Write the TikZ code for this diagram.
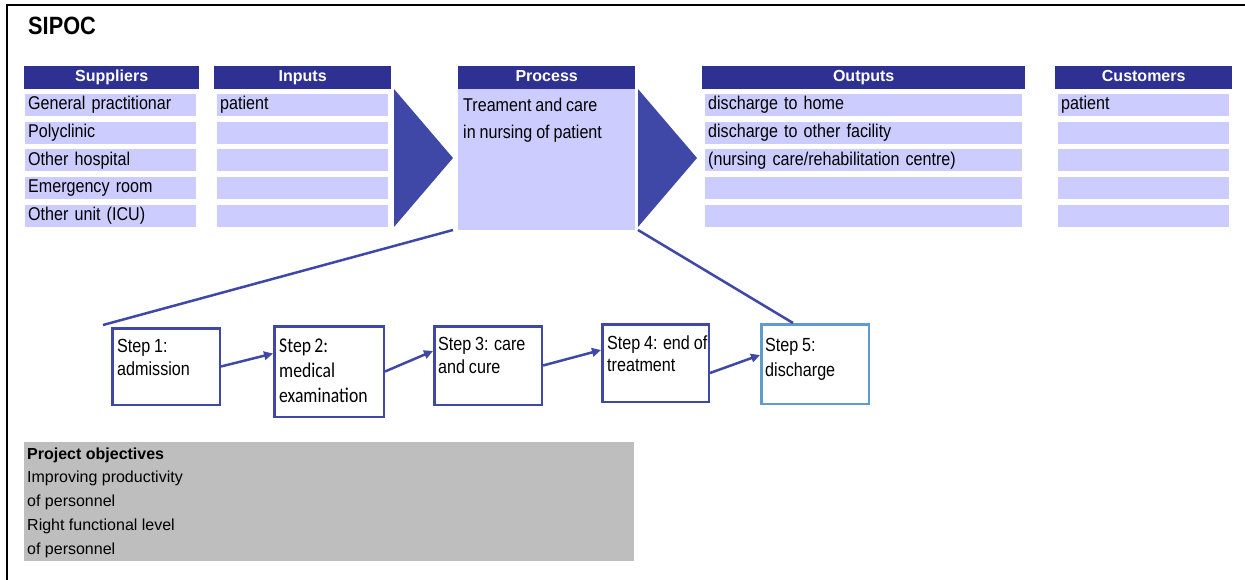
\documentclass[tikz,border=0pt]{standalone}
\usepackage{fontspec}
\setmainfont{Liberation Sans}
\newfontfamily\narrowsans[FakeStretch=0.87,WordSpace=0.87]{Liberation Sans}
\newfontfamily\stepsans[FakeStretch=0.85,WordSpace=0.85]{Liberation Sans}
\newfontfamily\calfont[FakeStretch=0.84,WordSpace=0.84]{Carlito}
\usetikzlibrary{arrows.meta}
\definecolor{hdr}{HTML}{2E3192}
\definecolor{rowc}{HTML}{CCCCFF}
\definecolor{chev}{HTML}{3F48A6}
\definecolor{stepb}{HTML}{3F48A6}
\definecolor{stepc}{HTML}{5E9BD3}
\definecolor{objc}{HTML}{BEBEBE}
\begin{document}
\begin{tikzpicture}[x=1pt,y=-1pt,
  hdrbox/.style={fill=hdr,text=white,font=\fontsize{16}{19}\selectfont\bfseries,anchor=north west,inner sep=0pt,minimum height=23pt,text height=11.7pt,text depth=3.4pt},
  rowbox/.style={fill=rowc,anchor=north west,inner xsep=3pt,inner ysep=0pt,minimum height=22pt,align=left,font=\narrowsans\fontsize{18.5}{21}\selectfont,text height=13.5pt,text depth=3.9pt},
  stepbox/.style={draw=stepb,line width=2.5pt,anchor=center,inner sep=0pt},
  steptext/.style={anchor=north west,inner sep=0pt,align=left},
  link/.style={draw=stepb,line width=2.5pt},
  flow/.style={draw=stepb,line width=2.5pt,-{Triangle[length=9pt,width=8.5pt]}}
]
\useasboundingbox (0,0) rectangle (1245,580);
% frame
\draw[line width=2.5pt] (7,580) -- (7,5) -- (1245,5);
% title
\node[anchor=west,inner sep=0pt,font=\narrowsans\fontsize{25}{28}\selectfont\bfseries] (title) at (28,26) {SIPOC};
% headers
\node[hdrbox,minimum width=175pt] (hsup) at (24,66) {Suppliers};
\node[hdrbox,minimum width=177pt] (hinp) at (214,66) {Inputs};
\node[hdrbox,minimum width=177pt] (hpro) at (458,66) {Process};
\node[hdrbox,minimum width=323pt] (hout) at (702,66) {Outputs};
\node[hdrbox,minimum width=177pt] (hcus) at (1055,66) {Customers};
% rows
\foreach \i/\t in {1/General practitionar,2/Polyclinic,3/Other hospital,4/Emergency room,5/Other unit (ICU)}
  \node[rowbox,text width=165pt] (sup\i) at (25,{94+(\i-1)*27.6}) {\t};
\foreach \i/\t in {1/patient,2/,3/,4/,5/}
  \node[rowbox,text width=165pt] (inp\i) at (217,{94+(\i-1)*27.6}) {\t};
\foreach \i/\t in {1/discharge to home,2/discharge to other facility,3/{(nursing care/rehabilitation centre)},4/,5/}
  \node[rowbox,text width=311pt] (out\i) at (705,{94+(\i-1)*27.6}) {\t};
\foreach \i/\t in {1/patient,2/,3/,4/,5/}
  \node[rowbox,text width=165pt] (cus\i) at (1058,{94+(\i-1)*27.6}) {\t};
% process body
\node[fill=rowc,anchor=north west,inner sep=0pt,minimum width=177pt,minimum height=141pt] (procbody) at (458,89) {};
\node[anchor=north west,inner sep=0pt,align=left,font=\narrowsans\fontsize{18.5}{27}\selectfont] (proctext) at (463,97.5) {Treament and care\\in nursing of patient};
% chevrons
\fill[chev] (394,89) -- (453,158) -- (394,227) -- cycle;
\fill[chev] (638,89) -- (697,158) -- (638,227) -- cycle;
% steps
\node[stepbox,minimum width=107.5pt,minimum height=76.5pt] (st1) at (166,366.5) {};
\node[stepbox,minimum width=109.5pt,minimum height=90.5pt] (st2) at (329,371.5) {};
\node[stepbox,minimum width=107.5pt,minimum height=78.5pt] (st3) at (488,365.5) {};
\node[stepbox,minimum width=106.5pt,minimum height=77.5pt] (st4) at (655.5,363) {};
\node[stepbox,draw=stepc,minimum width=107.5pt,minimum height=79.5pt] (st5) at (815,364) {};
\node[steptext,font=\stepsans\fontsize{19}{23}\selectfont] (t1) at (117,339) {Step 1:\\admission};
\node[steptext,font=\calfont\fontsize{21}{25}\selectfont] (t2) at (279,338.5) {Step 2:\\medical\\examination};
\node[steptext,font=\stepsans\fontsize{19}{22.7}\selectfont] (t3) at (438,337) {Step 3: care\\and cure};
\node[steptext,font=\stepsans\fontsize{19}{22}\selectfont] (t4) at (607,335.5) {Step 4: end of\\treatment};
\node[steptext,font=\stepsans\fontsize{19}{25}\selectfont] (t5) at (765,338) {Step 5:\\discharge};
% connectors from process
\coordinate (pl) at (453,230);
\coordinate (pr) at (638,230);
\coordinate (c1) at (103,325);
\coordinate (c5) at (793,323);
\draw[link] (pl) -- (c1);
\draw[link] (pr) -- (c5);
% step arrows
\draw[flow] (st1.east) -- ([yshift=18pt]st2.west);
\draw[flow] (st2.east) -- ([yshift=14.5pt]st3.west);
\draw[flow] (st3.east) -- ([yshift=13pt]st4.west);
\draw[flow] ([yshift=-10pt]st4.east) -- ([yshift=9pt]st5.west);
% objectives
\node[fill=objc,anchor=north west,inner sep=0pt,minimum width=610pt,minimum height=119pt] (obj) at (24,442) {};
\node[anchor=north west,inner sep=0pt,align=left,font=\fontsize{16}{23.7}\selectfont] (objtext) at (27,447.5) {\textbf{Project objectives}\\Improving productivity\\of personnel\\Right functional level\\of personnel};
\end{tikzpicture}
\end{document}
